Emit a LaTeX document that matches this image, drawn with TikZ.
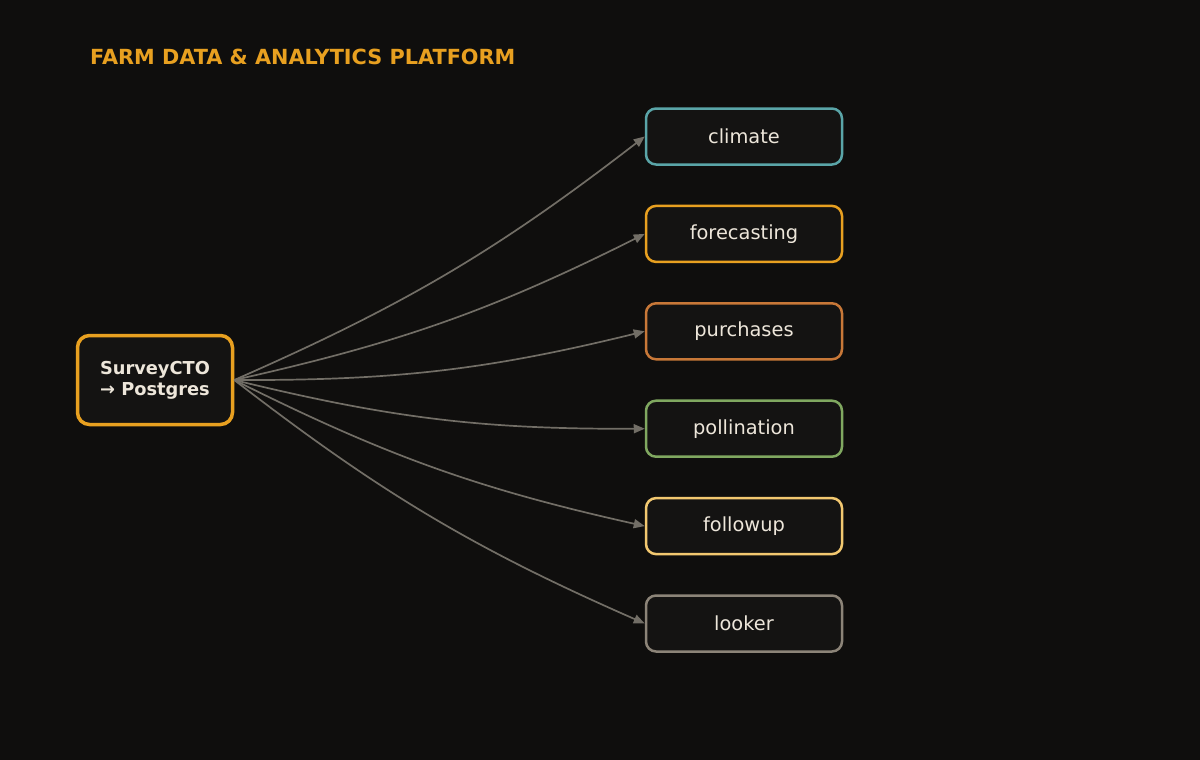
\documentclass[tikz,border=0pt]{standalone}
\usepackage{fontspec}
\setmainfont{DejaVu Sans}
\usepackage{xcolor}
\usetikzlibrary{positioning, arrows.meta}

\definecolor{bgdark}{HTML}{0F0E0D}
\definecolor{boxfill}{HTML}{141312}
\definecolor{labeltext}{HTML}{EDE6DA}
\definecolor{amber}{HTML}{E8A020}
\definecolor{teal}{HTML}{5AA5A8}
\definecolor{copper}{HTML}{C87838}
\definecolor{sage}{HTML}{80A860}
\definecolor{butter}{HTML}{F2C870}
\definecolor{stone}{HTML}{8C8478}
\definecolor{wire}{HTML}{726E66}

\begin{document}
\begin{tikzpicture}[
    x=1pt, y=-1pt,
    node distance = 38.9pt,
    target/.style = {
        draw, rectangle, rounded corners=10pt, line width=2.5pt,
        fill=boxfill, text=labeltext, minimum width=196pt, minimum height=56pt,
        font=\fontsize{19.4}{22}\selectfont
    },
    link/.style = {
        draw=wire, line width=1.7pt, bend right=7,
        -{Triangle[length=11pt, width=9pt]}
    }
  ]
    \useasboundingbox[fill=bgdark] (0,0) rectangle (1200,760);

    % titre
    \node[anchor=west, inner sep=0pt, text=amber,
          font=\fontsize{20.8}{24}\selectfont\bfseries] (title) at (90,57)
          {FARM DATA \& ANALYTICS PLATFORM};

    % source
    \node[draw=amber, rectangle, rounded corners=12pt, line width=3.5pt,
          fill=boxfill, text=labeltext, align=center,
          minimum width=155pt, minimum height=89pt,
          font=\fontsize{17.8}{21}\selectfont\bfseries] (source) at (155,380)
          {SurveyCTO\\→ Postgres};

    % cibles
    \node[target, draw=teal] (climate) at (744,136.5) {climate};
    \node[target, draw=amber, below=of climate] (forecasting) {forecasting};
    \node[target, draw=copper, below=of forecasting] (purchases) {purchases};
    \node[target, draw=sage, below=of purchases] (pollination) {pollination};
    \node[target, draw=butter, below=of pollination] (followup) {followup};
    \node[target, draw=stone, below=of followup] (looker) {looker};

    % liens
    \draw[link] (source.east) to (climate.west);
    \draw[link] (source.east) to (forecasting.west);
    \draw[link] (source.east) to (purchases.west);
    \draw[link] (source.east) to (pollination.west);
    \draw[link] (source.east) to (followup.west);
    \draw[link] (source.east) to (looker.west);
\end{tikzpicture}
\end{document}
